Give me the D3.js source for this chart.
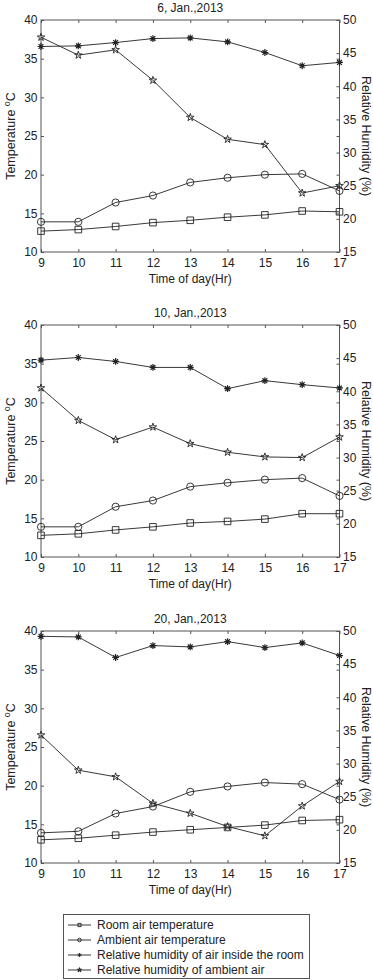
<!DOCTYPE html>
<html><head><meta charset="utf-8">
<script src="https://cdn.jsdelivr.net/npm/d3@7"></script>
<style>body{margin:0;background:#fff}svg{display:block;font-family:"Liberation Sans",Arial,sans-serif}</style>
</head><body>
<script>
const hours = [9,10,11,12,13,14,15,16,17];
const titles = ["6, Jan.,2013","10, Jan.,2013","20, Jan.,2013"];
const tempTicks = [10,15,20,25,30,35,40];
const rhTicks = [15,20,25,30,35,40,45,50];
const seriesNames = ["Room air temperature","Ambient air temperature","Relative humidity of air inside the room","Relative humidity of ambient air"];

const roomT1 = [12.7,12.9,13.3,13.8,14.1,14.5,14.8,15.3,15.2];
const ambT1  = [13.9,13.9,16.4,17.3,19.0,19.6,20.0,20.1,17.9];
const roomRH1 = [46.0,46.1,46.6,47.2,47.3,46.7,45.1,43.1,43.6];
const ambRH1  = [47.4,44.7,45.5,40.9,35.3,32.0,31.2,23.9,25.0];

const roomT2 = [12.8,13.0,13.5,13.9,14.4,14.6,14.9,15.6,15.6];
const ambT2  = [13.9,13.9,16.5,17.3,19.1,19.6,20.0,20.2,17.9];
const roomRH2 = [44.7,45.1,44.5,43.6,43.6,40.4,41.6,41.0,40.5];
const ambRH2  = [40.5,35.6,32.7,34.6,32.1,30.8,30.1,30.0,33.1];

const roomT3 = [13.0,13.2,13.6,14.0,14.3,14.6,14.9,15.5,15.6];
const ambT3  = [13.9,14.1,16.4,17.3,19.2,19.9,20.4,20.2,18.2];
const roomRH3 = [49.2,49.1,46.0,47.8,47.6,48.4,47.5,48.2,46.3];
const ambRH3  = [34.3,29.0,28.0,24.0,22.5,20.5,19.1,23.6,27.3];

const panels = [
  {title:titles[0], roomT:roomT1, ambT:ambT1, roomRH:roomRH1, ambRH:ambRH1},
  {title:titles[1], roomT:roomT2, ambT:ambT2, roomRH:roomRH2, ambRH:ambRH2},
  {title:titles[2], roomT:roomT3, ambT:ambT3, roomRH:roomRH3, ambRH:ambRH3}
];

const W=373,H=980;
const svg=d3.select("body").append("svg").attr("width",W).attr("height",H);
const L=41,R=339.5, PH=232;
const tops=[20,325,631];
const axisColor="#555", textColor="#222";

const x=d3.scaleLinear().domain([9,17]).range([L,R]);

function markerPath(type,s){
  if(type==="square") return `M${-s},${-s}h${2*s}v${2*s}h${-2*s}Z`;
  if(type==="circle") return d3.symbol(d3.symbolCircle, Math.PI*s*s)();
  if(type==="asterisk"){ const d=s*0.7071;
    return `M${-s},0L${s},0M0,${-s}L0,${s}M${-d},${-d}L${d},${d}M${-d},${d}L${d},${-d}`; }
  if(type==="star") return d3.symbol(d3.symbolStar, s*s/0.8908)();
}

panels.forEach((p,i)=>{
  const top=tops[i], bot=top+PH;
  const yT=d3.scaleLinear().domain([10,40]).range([bot,top]);
  const yH=d3.scaleLinear().domain([15,50]).range([bot,top]);
  const g=svg.append("g");
  g.append("rect").attr("x",L).attr("y",top).attr("width",R-L).attr("height",PH)
    .attr("fill","none").attr("stroke",axisColor).attr("stroke-width",1);
  const bx=g.append("g").attr("transform",`translate(0,${bot})`)
    .call(d3.axisBottom(x).tickValues(hours).tickSizeInner(-3).tickSizeOuter(0).tickPadding(6).tickFormat(d3.format("d")));
  const tx=g.append("g").attr("transform",`translate(0,${top})`)
    .call(d3.axisTop(x).tickValues(hours).tickSizeInner(-3).tickSizeOuter(0).tickFormat(""));
  const ly=g.append("g").attr("transform",`translate(${L},0)`)
    .call(d3.axisLeft(yT).tickValues(tempTicks).tickSizeInner(-3).tickSizeOuter(0));
  const lyr=g.append("g").attr("transform",`translate(${R},0)`)
    .call(d3.axisRight(yT).tickValues(tempTicks).tickSizeInner(-3).tickSizeOuter(0).tickFormat(""));
  const ry=g.append("g").attr("transform",`translate(${R},0)`)
    .call(d3.axisRight(yH).tickValues(rhTicks).tickSizeInner(-3).tickSizeOuter(0));
  [bx,tx,ly,lyr,ry].forEach(a=>{
    a.select(".domain").remove();
    a.selectAll(".tick line").attr("stroke",axisColor);
    a.selectAll("text").attr("fill",textColor).style("font-size","12px").style("font-family","'Liberation Sans',Arial,sans-serif");
  });
  ly.selectAll("text").attr("x",-3.5);
  ry.selectAll("text").attr("x",3.5);
  g.append("text").attr("x",(L+R)/2).attr("y",top-8).attr("text-anchor","middle")
    .attr("fill",textColor).style("font-size","12px").text(p.title);
  g.append("text").attr("x",(L+R)/2).attr("y",bot+31).attr("text-anchor","middle")
    .attr("fill",textColor).style("font-size","12px").text("Time of day(Hr)");
  const tl=g.append("text").attr("transform",`translate(15,${(top+bot)/2}) rotate(-90)`)
    .attr("text-anchor","middle").attr("fill",textColor).style("font-size","12.5px");
  tl.append("tspan").text("Temperature ");
  tl.append("tspan").attr("dy",-5).style("font-size","9px").text("o");
  tl.append("tspan").attr("dy",5).text("C");
  g.append("text").attr("transform",`translate(362,${(top+bot)/2}) rotate(90)`)
    .attr("text-anchor","middle").attr("fill",textColor).style("font-size","12.5px")
    .text("Relative Humidity (%)");

  const defs=[
    {vals:p.roomT, y:yT, m:"square", s:3.3},
    {vals:p.ambT, y:yT, m:"circle", s:3.6},
    {vals:p.roomRH, y:yH, m:"asterisk", s:3.4},
    {vals:p.ambRH, y:yH, m:"star", s:4.0}
  ];
  defs.forEach(d=>{
    const line=d3.line().x((v,j)=>x(hours[j])).y(v=>d.y(v));
    g.append("path").attr("d",line(d.vals)).attr("fill","none").attr("stroke","#222").attr("stroke-width",0.9);
    g.selectAll(null).data(d.vals).enter().append("path")
      .attr("transform",(v,j)=>`translate(${x(hours[j])},${d.y(v)})`)
      .attr("d",markerPath(d.m,d.s)).attr("fill","none").attr("stroke","#222")
      .attr("stroke-width",d.m==="asterisk"?1.2:0.9);
  });
});

const lg=svg.append("g");
lg.append("rect").attr("x",63.5).attr("y",914.5).attr("width",246).attr("height",64)
  .attr("fill","#fff").attr("stroke",axisColor).attr("stroke-width",1);
const legM=[["square",1.6],["circle",1.8],["asterisk",2],["star",2.4]];
seriesNames.forEach((n,k)=>{
  const yy=925+k*15;
  lg.append("line").attr("x1",68).attr("x2",91).attr("y1",yy).attr("y2",yy).attr("stroke","#222").attr("stroke-width",0.9);
  lg.append("path").attr("transform",`translate(79.5,${yy})`).attr("d",markerPath(legM[k][0],legM[k][1]))
    .attr("fill",k===3?"#444":"none").attr("stroke","#222").attr("stroke-width",0.9);
  lg.append("text").attr("x",97).attr("y",yy+4).attr("fill",textColor).style("font-size","12px").text(n);
});
</script>
</body></html>
